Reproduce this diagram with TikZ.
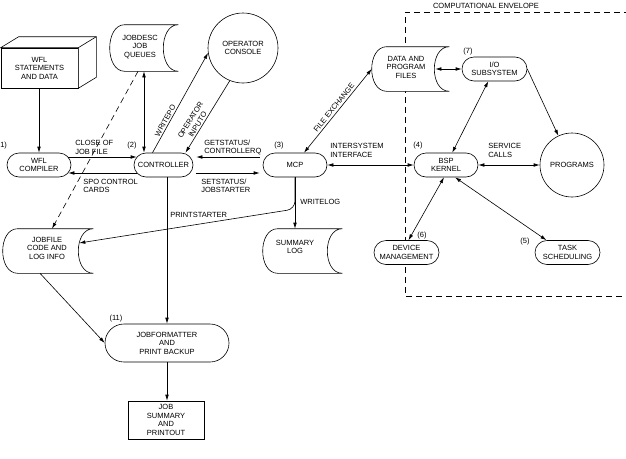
\documentclass[tikz,border=0pt]{standalone}
\usepackage{fontspec}
\setmainfont{Liberation Sans}
\usetikzlibrary{arrows.meta}

\newcommand{\filesym}[1]{%
  \draw[fill=white] ([xshift=15pt]#1.north west) -- (#1.north east)
    .. controls ([xshift=-20pt]#1.north east) and ([xshift=-20pt]#1.south east) .. (#1.south east)
    -- ([xshift=15pt]#1.south west)
    .. controls ([xshift=-5pt]#1.south west) and ([xshift=-5pt]#1.north west) .. cycle;}

\begin{document}
\begin{tikzpicture}[x=1pt, y=-1pt, line width=0.6pt, >={Latex[length=6pt, width=3.6pt]}]
          \tikzstyle{every node}=[font=\fontsize{7.5}{8.5}\selectfont, align=center]
          \tikzstyle{unit}=[draw, fill=white, rectangle, rounded corners=12pt, minimum width=64pt, minimum height=24pt, inner sep=1pt]
          \tikzstyle{disc}=[draw, fill=white, circle, inner sep=0pt]
          \tikzstyle{file}=[rectangle, inner sep=0pt]
          \tikzstyle{tag}=[inner sep=0pt]
          \tikzstyle{note}=[anchor=west, align=left, inner sep=0pt]
          \tikzstyle{envelope}=[dash pattern=on 6pt off 4pt]

          \useasboundingbox (0, 0) rectangle (626, 458);

          \draw[envelope] (640, 12) -- (405, 12) -- (405, 296) -- (640, 296);
          \node (envlabel) at (486, 6) [] {COMPUTATIONAL ENVELOPE};

          \node (wfl) at (39.5, 68) [draw, fill=white, minimum width=77pt, minimum height=40pt, inner sep=0pt] {WFL\\STATEMENTS\\AND DATA};
          \draw[fill=white] (wfl.north west) -- ([shift={(18pt,11pt)}]wfl.north west) -- ([shift={(18pt,11pt)}]wfl.north east) -- ([shift={(18pt,11pt)}]wfl.south east) -- (wfl.south east) -- (wfl.north east) -- cycle;
          \draw (wfl.north east) -- ([shift={(18pt,11pt)}]wfl.north east);

          \node (wflc) at (39, 165) [unit] {WFL\\COMPILER};
          \node (wflclabel) at (0, 146) [tag, anchor=west] {1)};
          \node (ctrl) at (163.5, 165) [unit, minimum width=59pt] {CONTROLLER};
          \node (ctrllabel) at (132, 146) [tag] {(2)};
          \node (mcp) at (295, 165) [unit] {MCP};
          \node (mcplabel) at (279, 146) [tag] {(3)};
          \node (bsp) at (446, 165) [unit] {BSP\\KERNEL};
          \node (bsplabel) at (418, 146) [tag] {(4)};
          \node (io) at (494.5, 69) [unit, minimum width=65pt] {I/O\\SUBSYSTEM};
          \node (iolabel) at (468, 52) [tag] {(7)};
          \node (dev) at (406.5, 252.5) [unit, minimum width=65pt] {DEVICE\\MANAGEMENT};
          \node (devlabel) at (422, 236) [tag] {(6)};
          \node (task) at (567.5, 252.5) [unit, minimum width=65pt] {TASK\\SCHEDULING};
          \node (tasklabel) at (525, 242) [tag] {(5)};
          \node (jfmt) at (167, 343) [unit, rounded corners=19pt, minimum width=124pt, minimum height=38pt] {JOBFORMATTER\\AND\\PRINT BACKUP};
          \node (jfmtlabel) at (116, 319) [tag] {(11)};
          \node (jsum) at (166, 420) [draw, minimum width=76pt, minimum height=38pt, inner sep=1pt] {JOB\\SUMMARY\\AND\\PRINTOUT};

          \node (con) at (243, 48) [disc, minimum size=70pt] {OPERATOR\\CONSOLE};
          \node (prog) at (572, 165) [disc, minimum size=64pt] {PROGRAMS};

          \node (jobdesc) at (144, 48) [file, minimum width=68pt, minimum height=46pt] {};
          \filesym{jobdesc}
          \node (jobdesclabel) at (140, 47) [] {JOBDESC\\JOB\\QUEUES};
          \node (data) at (410.5, 69) [file, minimum width=77pt, minimum height=44pt] {};
          \filesym{data}
          \node (datalabel) at (406, 67) [] {DATA AND\\PROGRAM\\FILES};
          \node (sumlog) at (302.5, 251) [file, minimum width=79pt, minimum height=44pt] {};
          \filesym{sumlog}
          \node (sumloglabel) at (295, 247) [] {SUMMARY\\LOG};
          \node (jobfile) at (48, 251) [file, minimum width=90pt, minimum height=44pt] {};
          \filesym{jobfile}
          \node (jobfilelabel) at (47, 248) [] {JOBFILE\\CODE AND\\LOG INFO};

          \draw[->] (wflc.north |- wfl.south) -- (wflc.north);
          \draw[->] ([shift={(-3pt,8pt)}]wflc.east) -- ([shift={(3pt,8pt)}]ctrl.west);
          \draw[->] ([shift={(3pt,-8pt)}]ctrl.west) -- ([shift={(-3pt,-8pt)}]wflc.east);
          \draw[->] ([shift={(-3pt,8pt)}]mcp.west) -- ([shift={(3pt,8pt)}]ctrl.east);
          \draw[->] ([shift={(3pt,-8pt)}]ctrl.east) -- ([shift={(-3pt,-8pt)}]mcp.west);
          \draw[<->] (jobdesc.south) -- (jobdesc.south |- ctrl.north);
          \draw[->, envelope] ([xshift=-6pt]jobdesc.south) -- ([xshift=4pt]jobfile.north);
          \draw[->] ([xshift=-11pt]ctrl.north) -- (con.188) node [pos=0.3, sloped, above, inner sep=1.5pt] {WRITEPO};
          \draw[->] (con.248) -- ([xshift=22pt]ctrl.north) node [pos=0.64, sloped, above, inner sep=1.5pt] {OPERATOR\\INPUTO};
          \draw[<->] ([xshift=9pt]mcp.north) -- (data.west) node [pos=0.5, sloped, above, inner sep=2pt] {FILE EXCHANGE};
          \draw[<->] (mcp.east) -- (bsp.west);
          \draw[<->] ([xshift=-14pt]data.east) -- (io.west);
          \draw[<->] (io) -- (bsp);
          \draw[->] (io.east) -- (prog);
          \draw[<->] (bsp.east) -- (prog.west);
          \draw[<->] ([xshift=-2pt]bsp.south) -- ([xshift=2pt]dev.north);
          \draw[<->] ([xshift=9pt]bsp.south) -- ([xshift=-21pt]task.north);
          \draw[->] (mcp.south) -- (mcp.south |- sumlog.north);
          \coordinate (logbend) at (295, 209);
          \draw[->, rounded corners=8pt] (mcp.south) -- (logbend) -- ([shift={(-14pt,8pt)}]jobfile.east);
          \draw[->] (jfmt.north |- ctrl.south) -- (jfmt.north);
          \draw[->] ([xshift=-8pt]jobfile.south) -- (jfmt.west);
          \draw[->] (jfmt.south) -- (jfmt.south |- jsum.north);

          \node (closelabel) at (75, 147.5) [note] {CLOSE OF\\JOB FILE};
          \node (spolabel) at (83, 186) [note] {SPO CONTROL\\CARDS};
          \node (getlabel) at (204, 147.5) [note] {GETSTATUS/\\CONTROLLERQ};
          \node (setlabel) at (201, 186) [note] {SETSTATUS/\\JOBSTARTER};
          \node (isilabel) at (330, 150.5) [note] {INTERSYSTEM\\INTERFACE};
          \node (svclabel) at (488, 150.5) [note] {SERVICE\\CALLS};
          \node (printlabel) at (170, 214.5) [note] {PRINTSTARTER};
          \node (loglabel) at (300, 201.5) [note] {WRITELOG};
        \end{tikzpicture}
\end{document}
